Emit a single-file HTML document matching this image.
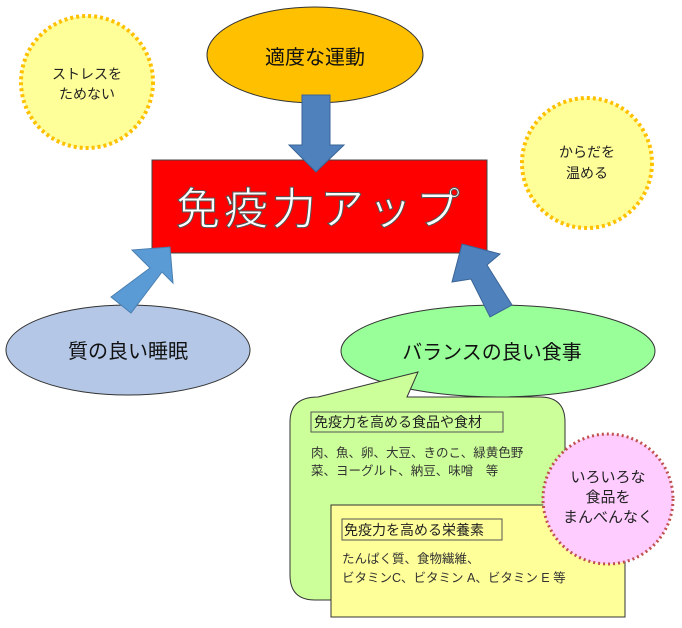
<!DOCTYPE html>
<html><head><meta charset="utf-8"><style>
html,body{margin:0;padding:0;background:#fff;}
svg text{font-family:"Liberation Sans","Noto Sans CJK JP",sans-serif;}
</style></head><body>
<svg width="682" height="623" viewBox="0 0 682 623" xmlns="http://www.w3.org/2000/svg">
<circle cx="87" cy="82" r="66" fill="#ffff99" stroke="#ffc000" stroke-width="4" stroke-dasharray="3 3"/>
<text x="87" y="79" font-size="14" text-anchor="middle" fill="#222">ストレスを</text>
<text x="87" y="99" font-size="14" text-anchor="middle" fill="#222">ためない</text>
<circle cx="587" cy="163" r="65" fill="#ffff99" stroke="#ffc000" stroke-width="4" stroke-dasharray="3 3"/>
<text x="587" y="157" font-size="14" text-anchor="middle" fill="#222">からだを</text>
<text x="587" y="178" font-size="14" text-anchor="middle" fill="#222">温める</text>
<ellipse cx="315" cy="55" rx="108" ry="48" fill="#ffc000" stroke="#333" stroke-width="1"/>
<text x="315" y="64" font-size="20" text-anchor="middle" fill="#111">適度な運動</text>
<rect x="152" y="160" width="335" height="93" fill="#ff0000" stroke="#444" stroke-width="1"/>
<text x="320" y="224" font-size="44" text-anchor="middle" fill="#fff" stroke="#555" stroke-width="1" letter-spacing="4">免疫力アップ</text>
<polygon points="302,95 330,95 330,145 344,145 316,172 289,145 302,145" fill="#4f81bd" stroke="#3a6496" stroke-width="1"/>
<ellipse cx="128" cy="350" rx="122" ry="45" fill="#b4c7e7" stroke="#333" stroke-width="1"/>
<text x="128" y="358" font-size="20" text-anchor="middle" fill="#111">質の良い睡眠</text>
<ellipse cx="498" cy="351" rx="157" ry="46" fill="#99ff99" stroke="#333" stroke-width="1"/>
<text x="492" y="359" font-size="20" text-anchor="middle" fill="#111">バランスの良い食事</text>
<polygon points="111,297 150,268 132,250 170,247 173,283 162,272 131,313" fill="#5b9bd5" stroke="#4a7fb0" stroke-width="1"/>
<polygon points="462,244 500,254 487,265 512,305 490,317 471,279 452,282" fill="#4f81bd" stroke="#3a6496" stroke-width="1"/>
<path d="M318,397 L418,372 L407,397 L540,397 Q565,397 565,422 L565,575 Q565,600 540,600 L315,600 Q290,600 290,575 L290,422 Q290,397 318,397 Z" fill="#ccff99" stroke="#333" stroke-width="1"/>
<rect x="311" y="412" width="192" height="20" fill="none" stroke="#555" stroke-width="1"/>
<text x="314" y="427" font-size="14" fill="#222">免疫力を高める食品や食材</text>
<text x="311" y="457" font-size="12.5" fill="#333">肉、魚、卵、大豆、きのこ、緑黄色野</text>
<text x="311" y="475" font-size="12.5" fill="#333">菜、ヨーグルト、納豆、味噌　等</text>
<rect x="331" y="505" width="294" height="112" fill="#ffff99" stroke="#333" stroke-width="1"/>
<rect x="342" y="519" width="160" height="21" fill="none" stroke="#555" stroke-width="1"/>
<text x="344" y="535" font-size="14" fill="#222">免疫力を高める栄養素</text>
<text x="342" y="563" font-size="12.5" fill="#333">たんぱく質、食物繊維、</text>
<text x="342" y="582" font-size="12.5" fill="#333">ビタミンC、ビタミン A、ビタミン E 等</text>
<circle cx="608" cy="499" r="65" fill="#ffccff" stroke="#c0504d" stroke-width="3" stroke-dasharray="2 3"/>
<text x="608" y="482" font-size="15" text-anchor="middle" fill="#222">いろいろな</text>
<text x="608" y="502" font-size="15" text-anchor="middle" fill="#222">食品を</text>
<text x="608" y="522" font-size="15" text-anchor="middle" fill="#222">まんべんなく</text>
</svg>
</body></html>
